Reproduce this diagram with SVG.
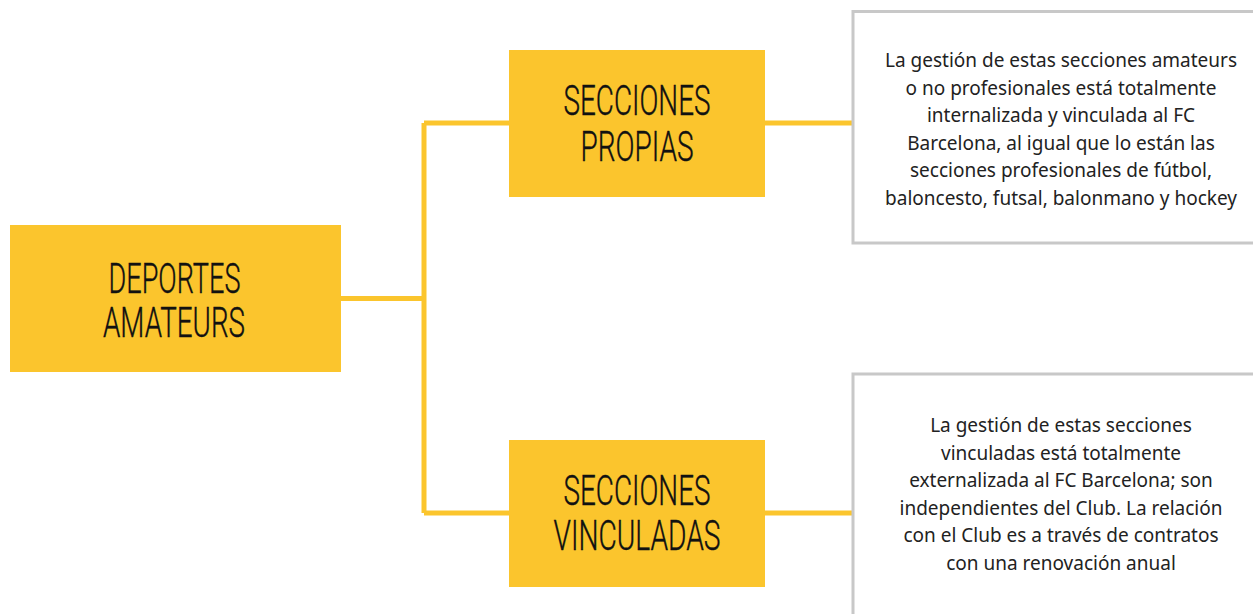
<svg xmlns="http://www.w3.org/2000/svg" width="1253" height="614" viewBox="0 0 1253 614">
<style>
.ybox{fill:#FBC52D}
.gbox{fill:#fff;stroke:#C8C8C8;stroke-width:3}
.conn{fill:none;stroke:#FBC52D;stroke-width:5}
.title{font-family:Roboto,"Liberation Sans",sans-serif;font-weight:300;font-size:43px;fill:#111;text-anchor:middle;stroke:#111;stroke-width:0.4}
.body{font-family:"Noto Sans","Open Sans",sans-serif;font-size:19px;fill:#222;text-anchor:middle}
</style>
<rect width="1253" height="614" fill="#fff"/>
<g id="connectors">
<path class="conn" d="M341 298.5H424M424 123V513M424 123H509M424 513H509M765 123H853M765 513H853"/>
</g>
<g id="note-propias">
<rect class="gbox" x="853" y="11.5" width="410" height="231.5"/>
<text class="body" x="1061"><tspan x="1061" y="67">La gestión de estas secciones amateurs</tspan><tspan x="1061" y="94.6">o no profesionales está totalmente</tspan><tspan x="1061" y="122.2">internalizada y vinculada al FC</tspan><tspan x="1061" y="149.8">Barcelona, al igual que lo están las</tspan><tspan x="1061" y="177.4">secciones profesionales de fútbol,</tspan><tspan x="1061" y="205">baloncesto, futsal, balonmano y hockey</tspan></text>
</g>
<g id="note-vinculadas">
<rect class="gbox" x="853" y="374" width="410" height="260"/>
<text class="body" x="1061"><tspan x="1061" y="432">La gestión de estas secciones</tspan><tspan x="1061" y="459.6">vinculadas está totalmente</tspan><tspan x="1061" y="487.2">externalizada al FC Barcelona; son</tspan><tspan x="1061" y="514.8">independientes del Club. La relación</tspan><tspan x="1061" y="542.4">con el Club es a través de contratos</tspan><tspan x="1061" y="570">con una renovación anual</tspan></text>
</g>
<g id="deportes-amateurs">
<rect class="ybox" x="10" y="225" width="331" height="147"/>
<text class="title"><tspan x="174.5" y="292.7" textLength="132" lengthAdjust="spacingAndGlyphs">DEPORTES</tspan><tspan x="174" y="337.3" textLength="142" lengthAdjust="spacingAndGlyphs">AMATEURS</tspan></text>
</g>
<g id="secciones-propias">
<rect class="ybox" x="509" y="50" width="256" height="147"/>
<text class="title"><tspan x="637" y="115" textLength="147" lengthAdjust="spacingAndGlyphs">SECCIONES</tspan><tspan x="637" y="160.7" textLength="113" lengthAdjust="spacingAndGlyphs">PROPIAS</tspan></text>
</g>
<g id="secciones-vinculadas">
<rect class="ybox" x="509" y="440" width="256" height="147"/>
<text class="title"><tspan x="637" y="505" textLength="147" lengthAdjust="spacingAndGlyphs">SECCIONES</tspan><tspan x="637" y="550" textLength="167" lengthAdjust="spacingAndGlyphs">VINCULADAS</tspan></text>
</g>
</svg>
